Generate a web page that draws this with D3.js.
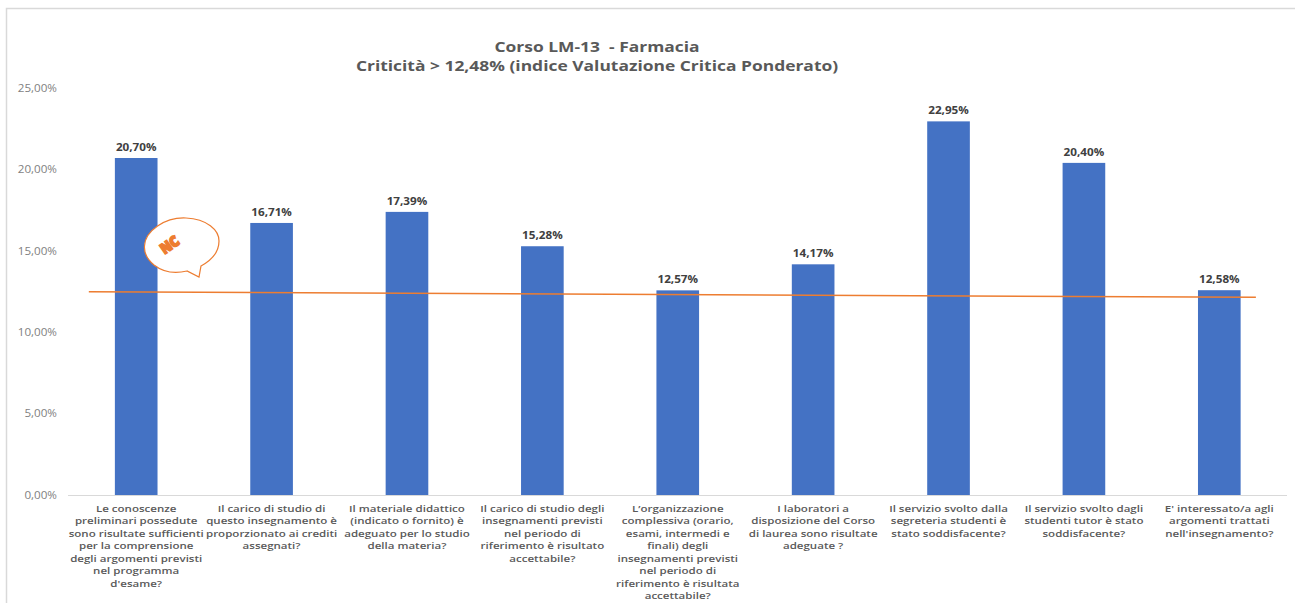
<!DOCTYPE html>
<html>
<head>
<meta charset="utf-8">
<script src="https://cdn.jsdelivr.net/npm/d3@7"></script>
<style>
  html, body { margin: 0; padding: 0; background: #fff; }
  svg { display: block; font-family: "Open Sans", sans-serif; }
</style>
</head>
<body>
<div id="chart"></div>
<script>
// Chart data
const categories = [
  ["Le conoscenze", "preliminari possedute", "sono risultate sufficienti", "per la comprensione", "degli argomenti previsti", "nel programma", "d'esame?"],
  ["Il carico di studio di", "questo insegnamento è", "proporzionato ai crediti", "assegnati?"],
  ["Il materiale didattico", "(indicato o fornito) è", "adeguato per lo studio", "della materia?"],
  ["Il carico di studio degli", "insegnamenti previsti", "nel periodo di", "riferimento è risultato", "accettabile?"],
  ["L’organizzazione", "complessiva (orario,", "esami, intermedi e", "finali) degli", "insegnamenti previsti", "nel periodo di", "riferimento è risultata", "accettabile?"],
  ["I laboratori a", "disposizione del Corso", "di laurea sono risultate", "adeguate ?"],
  ["Il servizio svolto dalla", "segreteria studenti è", "stato soddisfacente?"],
  ["Il servizio svolto dagli", "studenti tutor è stato", "soddisfacente?"],
  ["E' interessato/a agli", "argomenti trattati", "nell'insegnamento?"]
];
const values = [20.70, 16.71, 17.39, 15.28, 12.57, 14.17, 22.95, 20.40, 12.58];
const yTicks = [0, 5, 10, 15, 20, 25];
const trendIndex = [-0.35, 8.27];   // trend line runs past the first and last bar
const trendValues = [12.48, 12.14];
const titleLines = ["Corso LM-13  - Farmacia", "Criticità > 12,48% (indice Valutazione Critica Ponderato)"];

const W = 1295, H = 603;
const margin = { top: 88, right: 8, bottom: 108, left: 68 };
const fmt = v => v.toFixed(2).replace(".", ",") + "%";
// The reference text is stretched sideways, so every label gets a horizontal scale
const stretched = (px, py, sx) => `translate(${px},${py}) scale(${sx},1)`;

const svg = d3.select("#chart").append("svg")
  .attr("width", W)
  .attr("height", H);

// Frame around the chart, open at the right and bottom like the screenshot
svg.append("path")
  .attr("d", `M6.5,${H} V8.5 H${W}`)
  .attr("fill", "none")
  .attr("stroke", "#d9d9d9")
  .attr("stroke-width", 1.5);

// Scales
const x = d3.scaleBand()
  .domain(d3.range(categories.length))
  .range([margin.left + 0.5, W - margin.right])
  .paddingInner(0.685)
  .paddingOuter(0.3425);

const xIdx = d3.scaleLinear()
  .domain([0, categories.length - 1])
  .range([x(0) + x.bandwidth() / 2, x(categories.length - 1) + x.bandwidth() / 2]);

const y = d3.scaleLinear()
  .domain([0, 25])
  .range([H - margin.bottom, margin.top]);

// Title
svg.append("g").selectAll("text")
  .data(titleLines)
  .enter()
  .append("text")
  .attr("transform", (d, i) => stretched(597, 52 + i * 18.5, 1.245))
  .attr("text-anchor", "middle")
  .style("white-space", "pre")
  .style("font-size", "14px")
  .style("font-weight", 700)
  .attr("fill", "#595959")
  .text(d => d);

// Y axis labels, no line
const yAxis = svg.append("g")
  .attr("transform", `translate(${margin.left},0)`)
  .call(d3.axisLeft(y).tickValues(yTicks).tickSize(0).tickPadding(0).tickFormat(fmt));
yAxis.select(".domain").remove();
yAxis.selectAll("text")
  .attr("x", null)
  .attr("transform", "translate(-11,0) scale(1.11,1)")
  .style("font-family", '"Open Sans", sans-serif')
  .style("font-size", "10.5px")
  .attr("fill", "#7f7f7f");

// Bars
svg.selectAll("rect.bar")
  .data(values)
  .enter()
  .append("rect")
  .attr("class", "bar")
  .attr("x", (d, i) => x(i))
  .attr("y", d => y(d))
  .attr("width", x.bandwidth())
  .attr("height", d => y(0) - y(d))
  .attr("fill", "#4472c4");

// Baseline
svg.append("line")
  .attr("x1", margin.left)
  .attr("x2", W - margin.right)
  .attr("y1", y(0) + 0.5)
  .attr("y2", y(0) + 0.5)
  .attr("stroke", "#d9d9d9")
  .attr("stroke-width", 1);

// Value labels
svg.selectAll("text.val")
  .data(values)
  .enter()
  .append("text")
  .attr("class", "val")
  .attr("transform", (d, i) => stretched(x(i) + x.bandwidth() / 2, y(d) - 7, 1.17))
  .attr("text-anchor", "middle")
  .style("font-size", "10px")
  .style("font-weight", 700)
  .attr("fill", "#404040")
  .text(fmt);

// Trend line
const line = d3.line()
  .x(d => xIdx(d[0]))
  .y(d => y(d[1]));
svg.append("path")
  .datum(d3.zip(trendIndex, trendValues))
  .attr("fill", "none")
  .attr("stroke", "#ed7d31")
  .attr("stroke-width", 1.5)
  .attr("d", line);

// Category labels, one text per wrapped line
svg.selectAll("text.cat")
  .data(categories.flatMap((lines, i) => lines.map((t, j) => ({ t, i, j }))))
  .enter()
  .append("text")
  .attr("class", "cat")
  .attr("transform", d => stretched(x(d.i) + x.bandwidth() / 2, 511.5 + d.j * 12.5, 1.19))
  .attr("text-anchor", "middle")
  .style("font-size", "9.7px")
  .style("font-weight", 600)
  .attr("fill", "#595959")
  .text(d => d.t);

// Speech bubble sticker over the first bar
const bubble = svg.append("g");
bubble.append("path")
  .attr("d", "M144.5,246 C145,231 165,217 186,218 C207,219 219,230 219,241 C219,252 212,260 201,266 L199,277 L187,271 C175,274 163,272 154,265 C148,260 144,253 144.5,246 Z")
  .attr("fill", "#fff")
  .attr("stroke", "#ed7d31")
  .attr("stroke-width", 1.2);
bubble.append("text")
  .attr("transform", "translate(172.5,249) rotate(-35) scale(1,1.1)")
  .attr("text-anchor", "middle")
  .style("font-size", "13px")
  .style("font-weight", 800)
  .attr("fill", "#ed7d31")
  .attr("stroke", "#ed7d31")
  .attr("stroke-width", 1.6)
  .text("NC");
</script>
</body>
</html>
